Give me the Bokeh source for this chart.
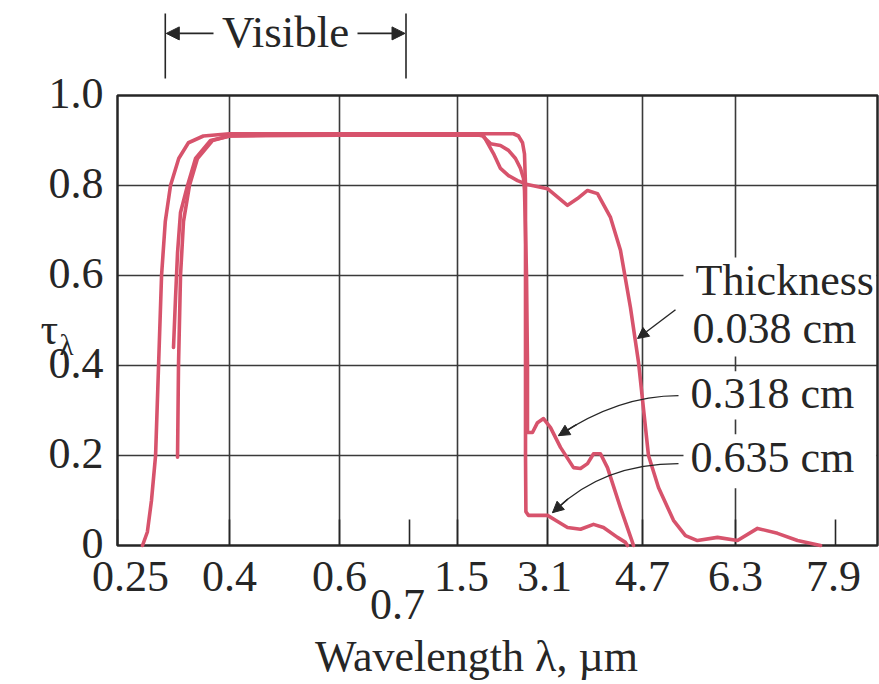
import numpy as np
from bokeh.plotting import figure
from bokeh.models import Arrow, NormalHead, Range1d
from bokeh.core.properties import value
from bokeh.embed import file_html
from bokeh.resources import INLINE

# ---------------- data ----------------
# wavelength axis (non-uniform scale, defined by its tick marks)
tick_wl = [0.25, 0.4, 0.6, 0.7, 1.5, 3.1, 4.7, 6.3, 7.9]
tick_labels = ["0.25", "0.4", "0.6", "0.7", "1.5", "3.1", "4.7", "6.3", "7.9"]
grid_wl = [0.4, 0.6, 1.5, 3.1, 4.7, 6.3]
y_ticks = [0, 0.2, 0.4, 0.6, 0.8, 1.0]
y_tick_labels = ["0", "0.2", "0.4", "0.6", "0.8", "1.0"]
y_grid = [0.2, 0.4, 0.6, 0.8]
visible_wl = [0.314, 0.695]
thickness_labels = ["0.038 cm", "0.318 cm", "0.635 cm"]

# thickness 0.038 cm
wl_038 = [0.2835, 0.290, 0.2955, 0.301, 0.305, 0.309, 0.314, 0.321, 0.332, 0.345, 0.365,
          0.40, 0.6, 0.7, 1.5, 1.873, 1.962, 2.140, 2.264, 2.407, 2.567, 2.744, 3.1,
          3.437, 3.605, 3.774, 3.942, 4.161, 4.329, 4.497, 4.633, 4.803, 4.975, 5.233,
          5.439, 5.645, 5.990, 6.332, 6.652, 6.972, 7.292, 7.66]
tau_038 = [0.0, 0.03, 0.10, 0.20, 0.40, 0.60, 0.72, 0.80, 0.86, 0.895, 0.91,
           0.915, 0.915, 0.915, 0.915, 0.915, 0.911, 0.871, 0.838, 0.822, 0.811, 0.802, 0.793,
           0.756, 0.771, 0.789, 0.782, 0.729, 0.656, 0.529, 0.407, 0.20, 0.129, 0.056,
           0.022, 0.011, 0.018, 0.011, 0.038, 0.027, 0.011, 0.0]

# thickness 0.318 cm
wl_318 = [0.325, 0.3277, 0.3304, 0.3344, 0.3438, 0.3545, 0.3746, 0.40, 0.6, 0.7, 1.5,
          1.873, 1.945, 2.087, 2.264, 2.407, 2.531, 2.62, 2.673, 2.691, 2.727, 2.744,
          2.744, 2.833, 2.922, 3.029, 3.151, 3.319, 3.538, 3.656, 3.774, 3.875, 3.992,
          4.110, 4.329, 4.531, 4.548]
tau_318 = [0.44, 0.55, 0.65, 0.74, 0.80, 0.86, 0.90, 0.91, 0.912, 0.912, 0.912,
           0.912, 0.91, 0.893, 0.889, 0.878, 0.86, 0.838, 0.816, 0.79, 0.60, 0.40,
           0.251, 0.251, 0.273, 0.282, 0.262, 0.218, 0.173, 0.171, 0.182, 0.204, 0.204,
           0.173, 0.084, 0.007, 0.0]

# thickness 0.635 cm
wl_635 = [0.3304, 0.3317, 0.3344, 0.3384, 0.3464, 0.3571, 0.3772, 0.40, 0.6, 0.7, 1.5,
          2.496, 2.584, 2.656, 2.691, 2.709, 2.709, 2.716, 2.762, 3.1, 3.235, 3.437,
          3.656, 3.875, 4.043, 4.279, 4.413, 4.447]
tau_635 = [0.196, 0.40, 0.60, 0.72, 0.80, 0.86, 0.90, 0.91, 0.915, 0.915, 0.915,
           0.915, 0.91, 0.895, 0.87, 0.80, 0.20, 0.075, 0.067, 0.067, 0.056, 0.04,
           0.036, 0.047, 0.04, 0.018, 0.007, 0.0]

# ---------------- layout / styling ----------------
FONT = value("Liberation Serif")
FS = value("44px")
RED = "#d7536c"
INK = "#262626"
GRID = "#3a3a3a"

# screen layout of the axis: position (px from plot-box left) of each wavelength tick
tick_pos = [0, 112, 222, 292, 340, 430, 525, 618, 718]
BOX_W = 760                       # plot box width in px units
PX_PER_TAU = 450.0                # plot box height in px
x_label_dx = [13, 0, 0, -12, 4, -3, 0, 0, -2]
x_label_dy = [0, 0, 0, 28, 0, 0, 0, 0, 0]


def xpos(wl):
    return np.interp(wl, tick_wl, tick_pos)


W, H = 879, 684
left_px, top_px = 117, 95
p = figure(width=W, height=H,
           x_range=Range1d(-left_px, W - left_px),
           y_range=Range1d(-(H - top_px - PX_PER_TAU) / PX_PER_TAU, 1.0 + top_px / PX_PER_TAU),
           x_axis_location=None, y_axis_location=None,
           output_backend="svg", toolbar_location=None,
           min_border=0, min_border_left=0, min_border_right=0,
           min_border_top=0, min_border_bottom=0)
p.background_fill_color = "white"
p.border_fill_color = "white"
p.outline_line_color = None
p.xgrid.visible = False
p.ygrid.visible = False

# grid lines
gx = xpos(grid_wl)
p.segment(x0=gx, y0=[0] * len(gx), x1=gx, y1=[1.0] * len(gx), line_color=GRID, line_width=1.6)
p.segment(x0=[0] * len(y_grid), y0=y_grid, x1=[BOX_W] * len(y_grid), y1=y_grid,
          line_color=GRID, line_width=1.6)

# inward tick marks along the wavelength axis
tx = xpos(tick_wl)
p.segment(x0=tx, y0=[0] * len(tx), x1=tx, y1=[26 / PX_PER_TAU] * len(tx),
          line_color=INK, line_width=1.6)

# white masks behind the thickness labels (they interrupt the grid lines)
p.quad(left=[566] * 3, right=[759] * 3, bottom=[0.42, 0.28, 0.127], top=[0.64, 0.387, 0.247],
       fill_color="white", line_color=None)

# plot box
p.quad(left=[0], right=[BOX_W], bottom=[0], top=[1.0], fill_color=None,
       line_color=INK, line_width=2.5)

# curves
for wl, tau in [(wl_038, tau_038), (wl_318, tau_318), (wl_635, tau_635)]:
    p.line(xpos(wl), tau, line_color=RED, line_width=3.6, line_join="round", line_cap="round")

# tick labels
p.text(x=tx, y=[-0.0689] * len(tx), text=tick_labels, x_offset=x_label_dx, y_offset=x_label_dy,
       text_font=FONT, text_font_size=FS, text_color=INK, text_align="center",
       text_baseline="middle")
p.text(x=[-14] * len(y_ticks), y=y_ticks, text=y_tick_labels, y_offset=-2, text_font=FONT,
       text_font_size=FS, text_color=INK, text_align="right", text_baseline="middle")

# axis titles
p.text(x=[359], y=[-0.2467], text=["Wavelength λ, µm"], text_font=FONT, text_font_size=FS,
       text_color=INK, text_align="center", text_baseline="middle")
p.text(x=[-77], y=[0.4800], text=["τ"], text_font=FONT, text_font_size=FS,
       text_color=INK, text_align="left", text_baseline="middle")
p.text(x=[-58], y=[0.446], text=["λ"], text_font=FONT, text_font_size=value("29px"),
       text_color=INK, text_align="left", text_baseline="middle")

# thickness labels
p.text(x=[578, 575, 573, 573], y=[0.5889, 0.4822, 0.3378, 0.1956],
       text=["Thickness"] + thickness_labels, text_font=FONT, text_font_size=FS,
       text_color=INK, text_align="left", text_baseline="middle")


def head():
    return NormalHead(size=11, fill_color=INK, line_color=INK, line_width=1)


# arrows to curves
p.add_layout(Arrow(end=head(), x_start=558, y_start=0.524, x_end=520, y_end=0.46,
                   line_color=INK, line_width=1.4))
for (sx, sy), (cx, cy), (ex, ey) in [((561, 0.333), (501, 0.333), (441, 0.244)),
                                     ((561, 0.182), (484, 0.182), (435, 0.073))]:
    p.quadratic(x0=[sx], y0=[sy], x1=[ex], y1=[ey], cx=[cx], cy=[cy],
                line_color=INK, line_width=1.4)
    t = 0.85
    bx = (1 - t) ** 2 * sx + 2 * (1 - t) * t * cx + t ** 2 * ex
    by = (1 - t) ** 2 * sy + 2 * (1 - t) * t * cy + t ** 2 * ey
    p.add_layout(Arrow(end=head(), x_start=bx, y_start=by, x_end=ex, y_end=ey,
                       line_color=INK, line_width=1.4))

# "Visible" bracket above the plot box
vx0, vx1 = xpos(visible_wl)
p.segment(x0=[vx0, vx1], y0=[1.038, 1.038], x1=[vx0, vx1], y1=[1.182, 1.182],
          line_color=INK, line_width=1.6)
p.add_layout(Arrow(end=NormalHead(size=13, fill_color=INK, line_color=INK, line_width=1),
                   x_start=96, y_start=1.138, x_end=vx0 + 1, y_end=1.138,
                   line_color=INK, line_width=1.6))
p.add_layout(Arrow(end=NormalHead(size=13, fill_color=INK, line_color=INK, line_width=1),
                   x_start=240, y_start=1.138, x_end=vx1 - 1, y_end=1.138,
                   line_color=INK, line_width=1.6))
p.text(x=[(vx0 + vx1) / 2], y=[1.1422], text=["Visible"], text_font=FONT,
       text_font_size=value("45px"), text_color=INK, text_align="center",
       text_baseline="middle")

open("out.html", "w").write(file_html(p, INLINE))
